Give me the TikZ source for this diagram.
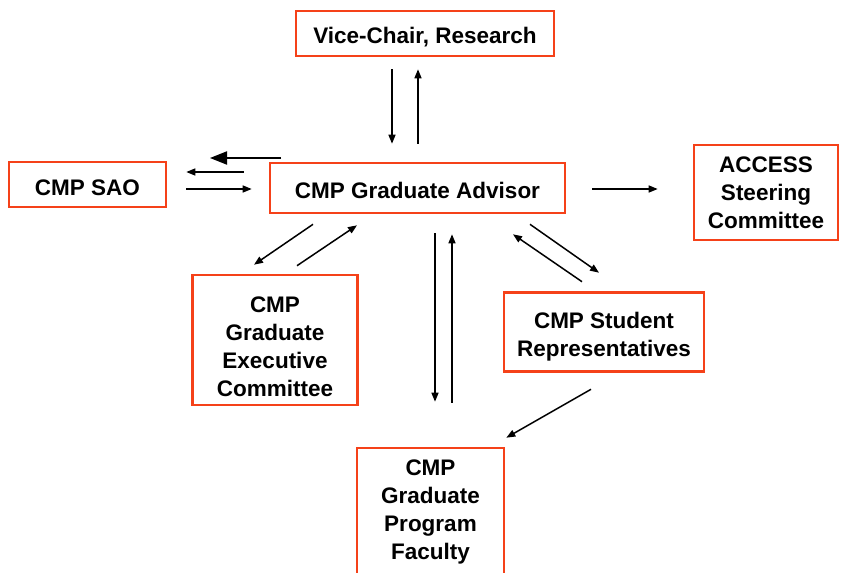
\documentclass[tikz,border=0pt]{standalone}
\usepackage{fontspec}
\setmainfont{Liberation Sans}
\usetikzlibrary{arrows.meta, positioning}
\definecolor{boxred}{RGB}{245,65,25}
\newcommand{\topgap}[1]{\rule{0pt}{#1}}

\begin{document}
\begin{tikzpicture}[
    x=1pt, y=-1pt,
    box/.style={rectangle, draw=boxred, line width=2.6pt, fill=white, align=center, inner sep=2pt, font=\fontsize{22.5}{28}\selectfont\bfseries},
    arrow/.style={-{Triangle[length=9pt,width=7pt]}, line width=1.5pt},
    bigarrow/.style={-{Triangle[length=17pt,width=13pt]}, line width=1.9pt}
]
\useasboundingbox (0,0) rectangle (841,573);

\node[box, minimum width=258pt, minimum height=45pt] (vice) at (425,33.5) {\topgap{23.5pt}Vice-Chair, Research};
\node[box, minimum width=157pt, minimum height=45pt] (sao) at (87.5,184.5) {\topgap{22.5pt}CMP SAO};
\node[box, minimum width=295pt, minimum height=50pt] (adv) at (417.5,188) {\topgap{20.5pt}CMP Graduate Advisor};
\node[box, minimum width=144pt, minimum height=95pt] (access) at (766,192.5) {ACCESS\\Steering\\Committee};
\node[box, minimum width=165pt, minimum height=130pt] (exec) at (275,340) {\topgap{28.5pt}CMP\\Graduate\\Executive\\Committee};
\node[box, minimum width=200pt, minimum height=79pt] (stud) at (604,332) {\topgap{26.5pt}CMP Student\\Representatives};
\node[box, minimum width=147pt, minimum height=128pt] (fac) at (430.5,512) {CMP\\Graduate\\Program\\Faculty};

\coordinate (strayA) at (281,158);
\coordinate (strayB) at (210,158);

\draw[arrow] ([shift={(-33pt,-12pt)}]vice.south) -- ([shift={(-25.5pt,18pt)}]adv.north);
\draw[arrow] ([shift={(0.5pt,18pt)}]adv.north) -- ([shift={(-7pt,-12pt)}]vice.south);
\draw[bigarrow] (strayA) -- (strayB);
\draw[arrow] ([shift={(-25pt,16pt)}]adv.west) -- ([shift={(19pt,12.5pt)}]sao.east);
\draw[arrow] ([shift={(19pt,-4.5pt)}]sao.east) -- ([shift={(-17pt,-1pt)}]adv.west);
\draw[arrow] ([shift={(26pt,-1pt)}]adv.east) -- ([shift={(-35pt,3.5pt)}]access.west);
\draw[arrow] ([shift={(-104.5pt,-10pt)}]adv.south) -- ([shift={(-21pt,9pt)}]exec.north);
\draw[arrow] ([shift={(22pt,8pt)}]exec.north) -- ([shift={(-60.5pt,-11pt)}]adv.south);
\draw[arrow] ([shift={(17.5pt,-19pt)}]adv.south) -- ([shift={(4.5pt,45pt)}]fac.north);
\draw[arrow] ([shift={(21.5pt,44pt)}]fac.north) -- ([shift={(34.5pt,-20pt)}]adv.south);
\draw[arrow] ([shift={(-22pt,9.5pt)}]stud.north) -- ([shift={(95.5pt,-20pt)}]adv.south);
\draw[arrow] ([shift={(112.5pt,-10pt)}]adv.south) -- ([shift={(-5pt,18.5pt)}]stud.north);
\draw[arrow] ([shift={(-13pt,-16.5pt)}]stud.south) -- ([shift={(1pt,9pt)}]fac.north east);
\end{tikzpicture}
\end{document}
